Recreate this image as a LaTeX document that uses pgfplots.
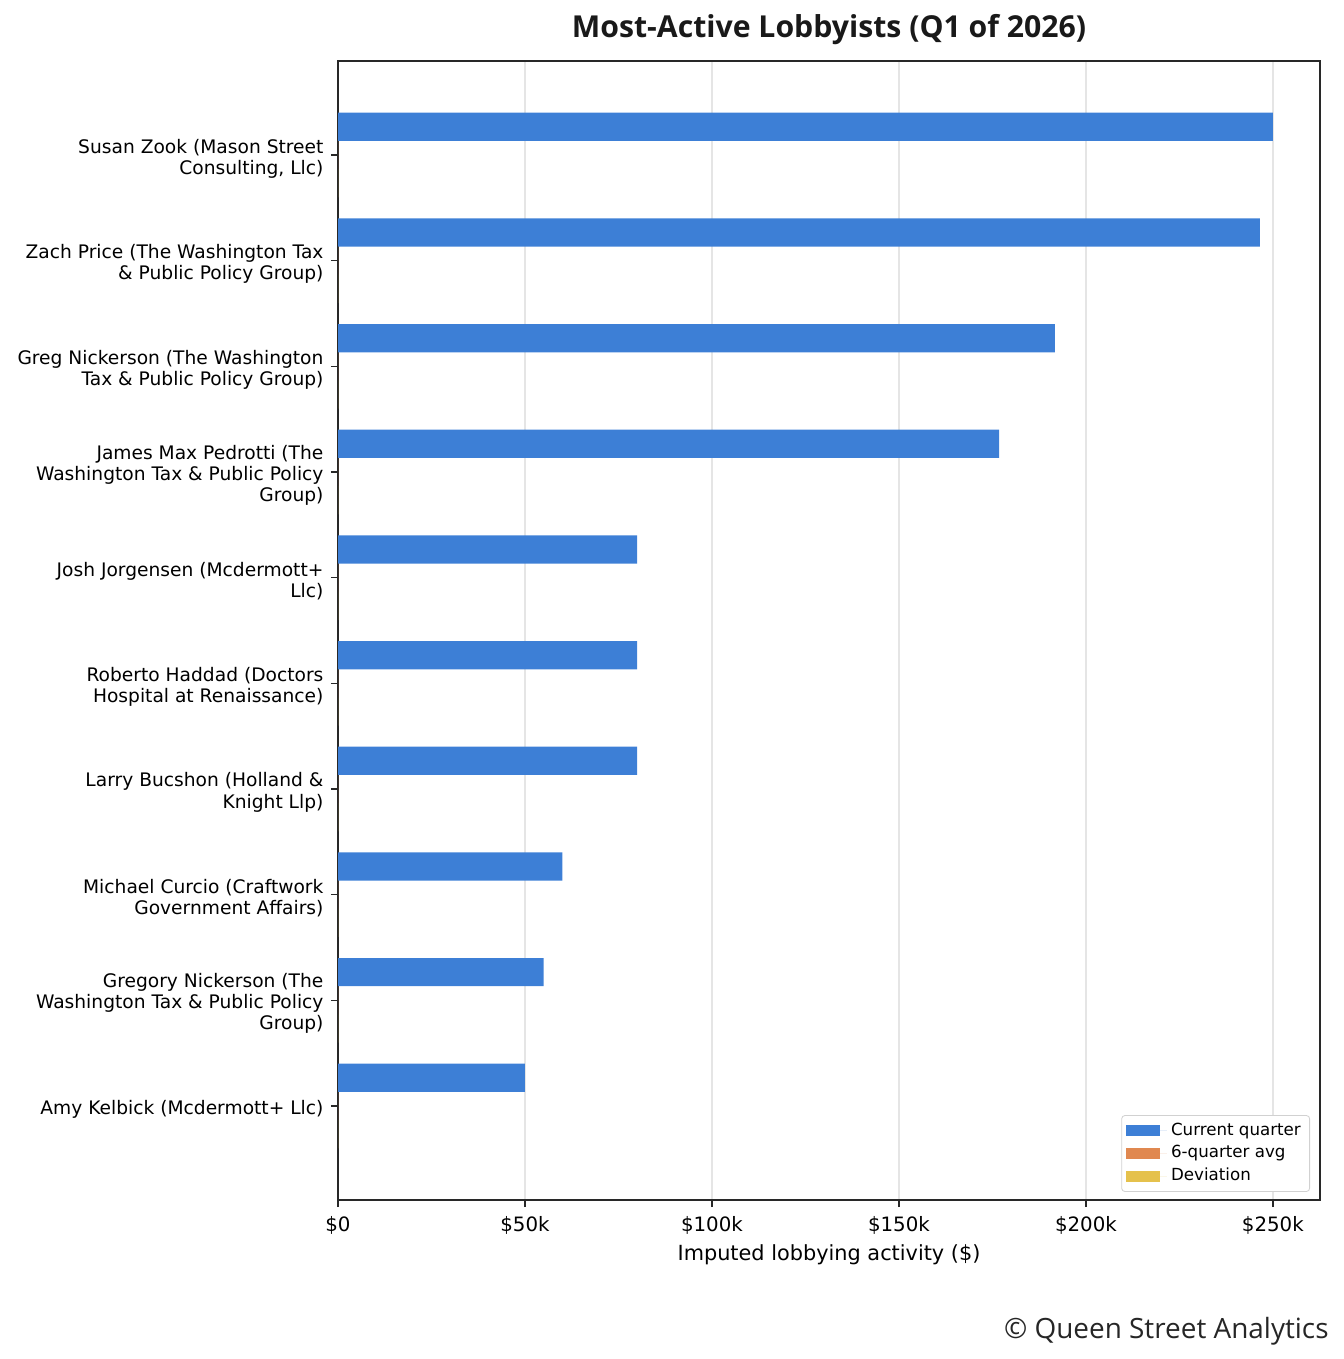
\documentclass[border=0pt]{standalone}
\usepackage{pgfplots}
\pgfplotsset{compat=1.18}
\usepackage{fontspec}
\setmainfont{DejaVu Sans}
\newfontfamily\titlefont{Open Sans}
\newfontfamily\footfont{Open Sans}
\definecolor{cq}{RGB}{61,127,214}
\definecolor{cavg}{RGB}{224,136,80}
\definecolor{cdev}{RGB}{229,193,76}
\definecolor{axc}{RGB}{40,40,40}
\pgfplotstableread{
idx cur avg dev
0 250000 0 0
1 246500 0 0
2 191700 0 0
3 176800 0 0
4 80000 0 0
5 80000 0 0
6 80000 0 0
7 60000 0 0
8 55000 0 0
9 50000 0 0
}\datatable
\begin{document}
\begin{tikzpicture}[x=0.48pt,y=-0.48pt]
\path (0,0) rectangle (1344,1359);
\begin{axis}[
  at={(162.24pt,-29.28pt)}, anchor=north west,
  scale only axis, width=471.36pt, height=546.72pt,
  xmin=0, xmax=262600, ymin=-0.89, ymax=9.89, y dir=reverse,
  scaled x ticks=false,
  axis line style={draw=axc, line width=0.7pt},
  tick pos=left, tick align=outside,
  major tick length=3.4pt,
  tick style={draw=axc, line width=0.6pt},
  xtick={0,50000,100000,150000,200000,250000},
  xticklabels={\$0,\$50k,\$100k,\$150k,\$200k,\$250k},
  ytick={0,...,9},
  yticklabels={
    {Susan Zook (Mason Street\\Consulting, Llc)},
    {Zach Price (The Washington Tax\\\& Public Policy Group)},
    {Greg Nickerson (The Washington\\Tax \& Public Policy Group)},
    {James Max Pedrotti (The\\Washington Tax \& Public Policy\\Group)},
    {Josh Jorgensen (Mcdermott+\\Llc)},
    {Roberto Haddad (Doctors\\Hospital at Renaissance)},
    {Larry Bucshon (Holland \&\\Knight Llp)},
    {Michael Curcio (Craftwork\\Government Affairs)},
    {Gregory Nickerson (The\\Washington Tax \& Public Policy\\Group)},
    {Amy Kelbick (Mcdermott+ Llc)}},
  yticklabel style={font=\fontsize{8.95}{10.1}\selectfont, align=right, inner sep=0pt, xshift=-3.4pt, yshift=-1.6pt},
  xticklabel style={font=\fontsize{9.5}{11}\selectfont, inner sep=0pt, yshift=-4.2pt},
  xlabel={Imputed lobbying activity (\$)},
  xlabel style={font=\fontsize{10}{12}\selectfont, inner sep=0pt, yshift=-5pt},
  xmajorgrids, grid style={draw=black!10, line width=0.7pt},
  legend style={at={(1,0)}, anchor=south east, xshift=-4.8pt, yshift=3.9pt,
    font=\fontsize{8}{9}\selectfont, draw=black!18, rounded corners=1.5pt,
    row sep=-0.6pt, inner ysep=1.6pt, inner xsep=2.2pt},
  legend cell align=left,
  legend image code/.code={\fill[#1, sharp corners] (0pt,-2.6pt) rectangle (16pt,2.6pt);
    \path (0pt,0pt) -- (19.5pt,0pt);},
]
\addplot[xbar, bar width=0.267, bar shift=-0.267, fill=cq, draw=none] table[x=cur, y=idx] {\datatable};
\addplot[xbar, bar width=0.267, bar shift=0, fill=cavg, draw=none] table[x=avg, y=idx] {\datatable};
\addplot[xbar, bar width=0.267, bar shift=0.267, fill=cdev, draw=none] table[x=dev, y=idx] {\datatable};
\legend{Current quarter, 6-quarter avg, Deviation}
\end{axis}
\node[anchor=base, font=\titlefont\bfseries\fontsize{14.5}{16}\selectfont, text=black!90] at (829,37) {Most-Active Lobbyists (Q1 of 2026)};
\node[anchor=base east, font=\footfont\fontsize{13.4}{15}\selectfont, text=black!85, inner sep=0pt] at (1329,1338) {© Queen Street Analytics};
\end{tikzpicture}
\end{document}
